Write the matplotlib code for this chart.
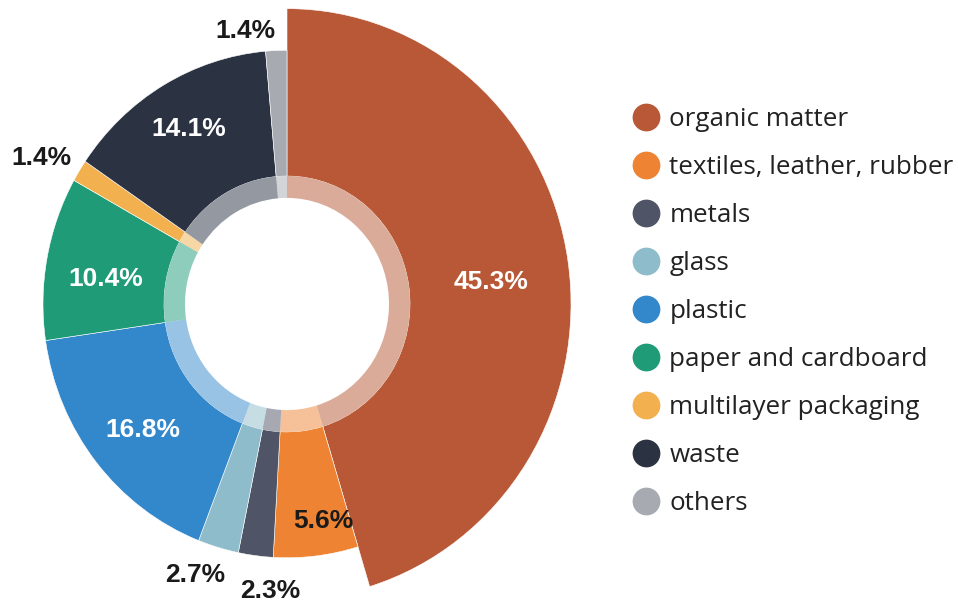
import matplotlib.pyplot as plt
from matplotlib.patches import Wedge
from matplotlib.lines import Line2D
import numpy as np

categories = ['organic matter', 'textiles, leather, rubber', 'metals', 'glass', 'plastic',
              'paper and cardboard', 'multilayer packaging', 'waste', 'others']
shares = [45.3, 5.6, 2.3, 2.7, 16.8, 10.4, 1.4, 14.1, 1.4]
colors = ['#B85836', '#EE8433', '#4F5466', '#8EBCCB', '#3388CC',
          '#1F9B78', '#F2B04E', '#2B3343', '#A7ABB1']

W, H = 958, 602
cx, cy = 287, 304
stretch = 1.04

fig = plt.figure(figsize=(W / 100, H / 100), dpi=100)
ax = fig.add_axes([0, 0, 1, 1])
ax.set_xlim(-cx, W - cx)
ax.set_ylim(-(H - cy) / stretch, cy / stretch)
ax.axis('off')

r_hole, r_ring, r_out, r_big = 102, 123, 244, 284

label_font = ['Liberation Sans', 'DejaVu Sans']
# where each percentage goes: (radius, angle nudge in degrees, text colour)
label_place = {0: (205, -2.5, 'white'), 1: (212, 3, '#1a1a1a'), 2: (276, 4, '#1a1a1a'),
               3: (276, -3, '#1a1a1a'), 4: (188, 1.5, 'white'), 5: (183, 3, 'white'),
               6: (283, 2, '#1a1a1a'), 7: (195, 0, 'white'), 8: (266, 6.5, '#1a1a1a')}

cum = np.concatenate([[0], np.cumsum(shares)])
total = cum[-1]
for i, (share, col) in enumerate(zip(shares, colors)):
    t1 = 90 - cum[i + 1] / total * 360
    t2 = 90 - cum[i] / total * 360
    outer = r_big if i == 0 else r_out
    ax.add_patch(Wedge((0, 0), outer, t1, t2, width=outer - r_ring,
                       facecolor=col, edgecolor='white', linewidth=0.4))
    ax.add_patch(Wedge((0, 0), r_ring, t1, t2, width=r_ring - r_hole,
                       facecolor=col, alpha=0.5, edgecolor='none'))
    r, nudge, tc = label_place[i]
    a = np.deg2rad((t1 + t2) / 2 + nudge)
    ax.text(r * np.cos(a), r * np.sin(a), f'{share:.1f}%', color=tc, fontsize=19,
            fontweight='bold', ha='center', va='center', family=label_font)

handles = [Line2D([], [], marker='o', linestyle='none', markersize=20,
                  markerfacecolor=c, markeredgecolor='none') for c in colors]
leg = fig.legend(handles, categories, loc='upper left', bbox_to_anchor=(633 / W, 1 - 107 / H),
                 frameon=False, labelspacing=0.885, handlelength=1.0, handletextpad=0.4,
                 borderpad=0, borderaxespad=0,
                 prop={'family': ['Open Sans', 'DejaVu Sans'], 'size': 18.7})
for t in leg.get_texts():
    t.set_color('#222222')

fig.savefig('out.png', dpi=100, facecolor='white')
